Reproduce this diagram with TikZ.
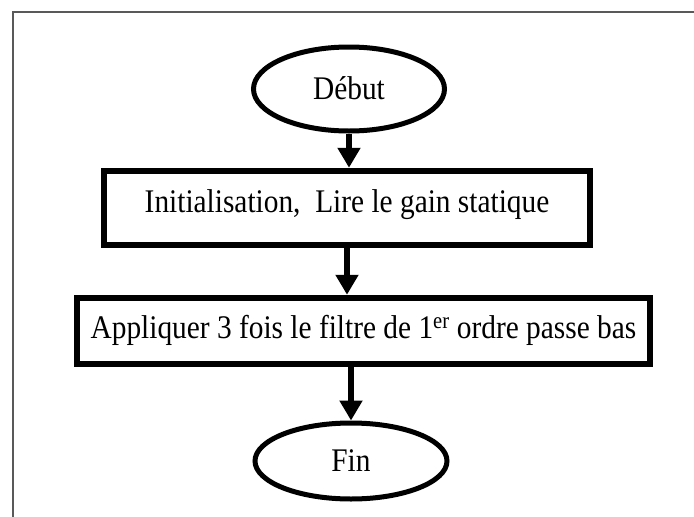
\documentclass[tikz,border=0pt]{standalone}
\usepackage{fontspec}
\usepackage{graphicx}
\setmainfont{Liberation Serif}
\usetikzlibrary{shapes.geometric,arrows.meta}
% narrow, tall lettering
\newcommand\narrowtext[1]{\scalebox{0.89}[1]{#1}}
\begin{document}
\begin{tikzpicture}[x=1pt,y=-1pt,
  txt/.style={font=\fontsize{33}{38}\selectfont, text depth=0pt},
  terminal/.style={ellipse, draw, line width=5pt, minimum width=191pt,
    minimum height=84pt, inner sep=0pt, txt, text height=20pt},
  process/.style={rectangle, draw, line width=6.5pt, inner sep=0pt, txt},
  flow/.style={line width=6pt, -{Triangle[width=22pt,length=20pt]}},
  frame/.style={draw=black!65, line width=1.5pt}]
\useasboundingbox (0,0) rectangle (694,517);
% open page frame (top and left edges only)
\draw[frame] (694,12) -- (13,12) -- (13,517);
% flowchart steps
\node[terminal] (debut) at (349,89) {\narrowtext{Début}};
\node[process, minimum width=486pt, minimum height=74pt, text height=8pt]
  (init) at (347,208) {\narrowtext{Initialisation,\ \ Lire le gain statique}};
\node[process, minimum width=573pt, minimum height=66pt, text height=14pt]
  (filtre) at (363.5,331)
  {\narrowtext{Appliquer 3 fois le filtre de 1\textsuperscript{er} ordre passe bas}};
\node[terminal, minimum width=192pt, minimum height=76pt] (fin) at (351,461)
  {\narrowtext{Fin}};
% connectors
\draw[flow] (debut.south) -- (debut.south |- init.north);
\draw[flow] (init.south) -- (init.south |- filtre.north);
\draw[flow] (fin.north |- filtre.south) -- (fin.north);
\end{tikzpicture}
\end{document}
